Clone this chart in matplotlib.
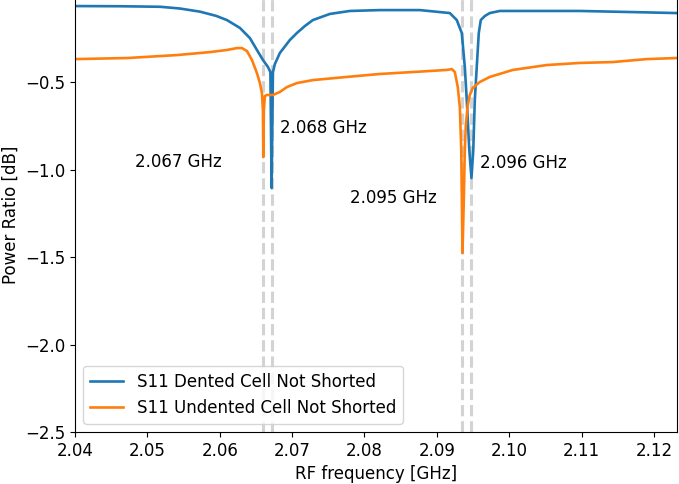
import matplotlib

matplotlib.use("Agg")
import matplotlib.pyplot as plt

# S11 sweep, dented cell (not shorted)
freq_dented = [
    2.04000, 2.04622, 2.05174, 2.05450, 2.05727, 2.05950, 2.06099, 2.06279,
    2.06417, 2.06514, 2.06597, 2.06666, 2.06700, 2.06717, 2.06735, 2.06762,
    2.06831, 2.06969, 2.07066, 2.07177, 2.07287, 2.07522, 2.07798, 2.08213,
    2.08765, 2.09180, 2.09276, 2.09345, 2.09387, 2.09414, 2.09449, 2.09479,
    2.09504, 2.09525, 2.09552, 2.09580, 2.09608, 2.09663, 2.09732, 2.09870,
    2.10285, 2.10975, 2.11666, 2.12315,
]
s11_dented = [
    -0.066, -0.067, -0.070, -0.080, -0.098, -0.122, -0.146, -0.191,
    -0.249, -0.317, -0.374, -0.414, -0.443, -1.106, -0.443, -0.397,
    -0.334, -0.260, -0.220, -0.180, -0.146, -0.111, -0.094, -0.089,
    -0.089, -0.106, -0.146, -0.220, -0.414, -0.603, -0.889, -1.049,
    -0.889, -0.603, -0.414, -0.220, -0.146, -0.123, -0.106, -0.094,
    -0.094, -0.094, -0.100, -0.106,
]

# S11 sweep, undented cell (not shorted)
freq_undented = [
    2.04000, 2.04718, 2.05409, 2.05865, 2.06099, 2.06238, 2.06307, 2.06376,
    2.06445, 2.06514, 2.06555, 2.06583, 2.06597, 2.06602, 2.06610, 2.06624,
    2.06652, 2.06735, 2.06831, 2.06928, 2.07066, 2.07287, 2.07757, 2.08213,
    2.08669, 2.09138, 2.09207, 2.09249, 2.09290, 2.09318, 2.09338, 2.09355,
    2.09373, 2.09387, 2.09401, 2.09428, 2.09456, 2.09497, 2.09594, 2.09732,
    2.10050, 2.10519, 2.10975, 2.11431, 2.11901, 2.12315,
]
s11_undented = [
    -0.369, -0.363, -0.346, -0.329, -0.317, -0.306, -0.306, -0.323,
    -0.374, -0.449, -0.506, -0.563, -0.660, -0.929, -0.660, -0.580,
    -0.574, -0.574, -0.557, -0.529, -0.506, -0.489, -0.471, -0.454,
    -0.443, -0.431, -0.426, -0.443, -0.529, -0.643, -0.889, -1.477,
    -1.174, -0.889, -0.746, -0.631, -0.574, -0.534, -0.500, -0.471,
    -0.431, -0.403, -0.391, -0.386, -0.369, -0.363,
]

# resonance markers and their labels
resonances = [2.06602, 2.06717, 2.09355, 2.09479]
res_labels = ["2.067 GHz", "2.068 GHz", "2.095 GHz", "2.096 GHz"]
label_x = [2.04829, 2.06831, 2.07798, 2.09594]
label_y = [-0.957, -0.763, -1.163, -0.963]

plt.rcParams["font.size"] = 12

fig = plt.figure(figsize=(6.79, 4.84), dpi=100)
ax = fig.add_axes([0.1105, 0.1074, 0.8866, 0.8967])

ax.plot(freq_dented, s11_dented, color="#1f77b4", linewidth=1.9,
        label="S11 Dented Cell Not Shorted")
ax.plot(freq_undented, s11_undented, color="#ff7f0e", linewidth=1.9,
        label="S11 Undented Cell Not Shorted")

for f in resonances:
    ax.axvline(f, color="lightgrey", linestyle="--", linewidth=2.2, zorder=0)
for x, y, s in zip(label_x, label_y, res_labels):
    ax.text(x, y, s, ha="left", va="center")

ax.set_xlim(2.04, 2.1232)
ax.set_ylim(-2.5, -0.02)
ax.set_yticks([-2.5, -2.0, -1.5, -1.0, -0.5])
ax.set_xticks([2.04, 2.05, 2.06, 2.07, 2.08, 2.09, 2.10, 2.11, 2.12])
ax.set_xlabel("RF frequency [GHz]")
ax.set_ylabel("Power Ratio [dB]")
ax.legend(loc="lower left")

fig.savefig("out.png", dpi=100)
